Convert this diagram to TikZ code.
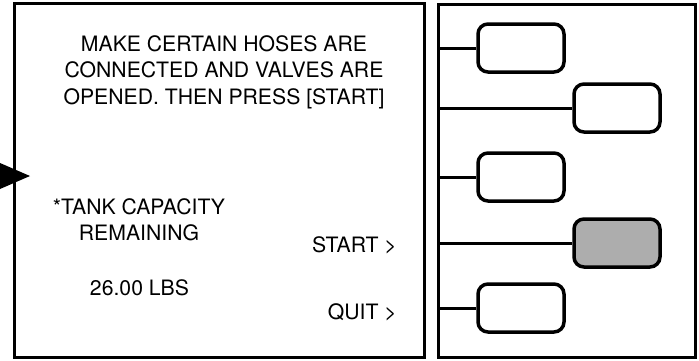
\documentclass[tikz,border=0pt]{standalone}
\usepackage{fontspec}
\setmainfont{TeX Gyre Heros}
\begin{document}
\begin{tikzpicture}[x=1pt,y=1pt,
  frame/.style={draw=black,line width=3pt},
  btn/.style={draw=black,line width=3.5pt,rounded corners=10pt,minimum width=86pt,minimum height=48pt,inner sep=0pt,fill=white},
  btnon/.style={btn,fill=black!32},
  conn/.style={draw=black,line width=3pt},
  txt/.style={font=\fontsize{21.2}{26.5}\selectfont,align=center,inner sep=0pt}]
\useasboundingbox (0,0) rectangle (699,360);
\fill[white] (0,0) rectangle (699,360);
% frames
\draw[frame] (14,3) rectangle (424,357);
\draw[frame] (438,3) rectangle (695,356);
% pointer
\fill[black] (0,197) -- (30,184) -- (0,171) -- cycle;
% screen texts
\node[txt] (msg) at (224,288) {MAKE CERTAIN HOSES ARE\\CONNECTED AND VALVES ARE\\OPENED. THEN PRESS [START]};
\node[txt] (tank) at (139,140) {*TANK CAPACITY\\REMAINING};
\node[txt] (lbs) at (139.5,72) {26.00 LBS};
\node[txt,anchor=east] (start) at (397,115) {START >};
\node[txt,anchor=east] (quit) at (397,48) {QUIT >};
% buttons
\node[btn] (b1) at (521,312) {};
\node[btn] (b2) at (617,252) {};
\node[btn] (b3) at (521,183) {};
\node[btnon] (b4) at (617,117) {};
\node[btn] (b5) at (521,52) {};
\coordinate (l1) at (438,312);
\coordinate (l2) at (438,252);
\coordinate (l3) at (438,183);
\coordinate (l4) at (438,117);
\coordinate (l5) at (438,52);
\draw[conn] (l1) -- (b1.west);
\draw[conn] (l2) -- (b2.west);
\draw[conn] (l3) -- (b3.west);
\draw[conn] (l4) -- (b4.west);
\draw[conn] (l5) -- (b5.west);
\end{tikzpicture}
\end{document}
